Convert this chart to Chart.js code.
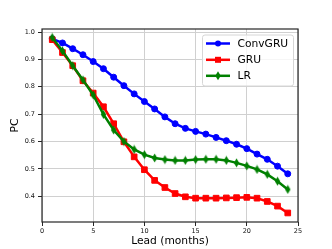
<!DOCTYPE html>
<html>
<head>
<meta charset="utf-8">
<script src="https://cdn.jsdelivr.net/npm/chart.js@4/dist/chart.umd.min.js"></script>
<style>
  html, body { margin: 0; padding: 0; background: #fff; }
  #wrap { width: 332px; height: 249px; }
</style>
</head>
<body>
<div id="wrap"><canvas id="pcChart" width="332" height="249"></canvas></div>
<script>
var leads = [1, 2, 3, 4, 5, 6, 7, 8, 9, 10, 11, 12, 13, 14, 15, 16, 17, 18, 19, 20, 21, 22, 23, 24];
var convGRU = [0.975, 0.960, 0.939, 0.917, 0.892, 0.866, 0.835, 0.804, 0.774, 0.746, 0.719, 0.690, 0.665, 0.648, 0.637, 0.627, 0.615, 0.603, 0.590, 0.574, 0.554, 0.535, 0.510, 0.482];
var gru = [0.972, 0.925, 0.877, 0.822, 0.777, 0.727, 0.665, 0.599, 0.544, 0.497, 0.458, 0.432, 0.410, 0.398, 0.393, 0.393, 0.393, 0.394, 0.395, 0.396, 0.393, 0.381, 0.364, 0.339];
var lr = [0.980, 0.931, 0.877, 0.825, 0.770, 0.699, 0.642, 0.600, 0.571, 0.552, 0.540, 0.534, 0.531, 0.531, 0.534, 0.535, 0.535, 0.531, 0.522, 0.511, 0.498, 0.480, 0.455, 0.425];
var xTicks = [0, 5, 10, 15, 20, 25];
var yTicks = [0.4, 0.5, 0.6, 0.7, 0.8, 0.9, 1.0];

var FONT = "'DejaVu Sans', sans-serif";

function toPoints(ys) {
    return ys.map(function (v, i) { return { x: leads[i], y: v }; });
}

// thin diamond marker (matplotlib 'd')
function thinDiamond(color) {
    var c = document.createElement('canvas');
    c.width = 7; c.height = 10;
    var g = c.getContext('2d');
    g.fillStyle = color;
    g.beginPath();
    g.moveTo(3.5, 0.5);
    g.lineTo(6.2, 5);
    g.lineTo(3.5, 9.5);
    g.lineTo(0.8, 5);
    g.closePath();
    g.fill();
    return c;
}

function drawMarker(ctx, style, color, x, y) {
    ctx.fillStyle = color;
    ctx.beginPath();
    if (style === 'circle') {
        ctx.arc(x, y, 3, 0, Math.PI * 2);
        ctx.fill();
    } else if (style === 'rect') {
        ctx.fillRect(x - 3, y - 3, 6, 6);
    } else {
        ctx.moveTo(x, y - 4.5);
        ctx.lineTo(x + 2.7, y);
        ctx.lineTo(x, y + 4.5);
        ctx.lineTo(x - 2.7, y);
        ctx.closePath();
        ctx.fill();
    }
}

var boxAndLegend = {
    id: 'boxAndLegend',
    afterDraw: function (chart) {
        var ctx = chart.ctx;
        var a = chart.chartArea;
        ctx.save();
        // spines
        ctx.strokeStyle = '#262626';
        ctx.lineWidth = 1.2;
        ctx.strokeRect(a.left, a.top, a.right - a.left, a.bottom - a.top);

        // legend frame
        var lx = 202.5, ly = 35, lw = 91, lh = 51, r = 2.5;
        ctx.beginPath();
        ctx.moveTo(lx + r, ly);
        ctx.lineTo(lx + lw - r, ly);
        ctx.quadraticCurveTo(lx + lw, ly, lx + lw, ly + r);
        ctx.lineTo(lx + lw, ly + lh - r);
        ctx.quadraticCurveTo(lx + lw, ly + lh, lx + lw - r, ly + lh);
        ctx.lineTo(lx + r, ly + lh);
        ctx.quadraticCurveTo(lx, ly + lh, lx, ly + lh - r);
        ctx.lineTo(lx, ly + r);
        ctx.quadraticCurveTo(lx, ly, lx + r, ly);
        ctx.closePath();
        ctx.fillStyle = 'rgba(255,255,255,0.8)';
        ctx.fill();
        ctx.strokeStyle = '#d6d6d6';
        ctx.lineWidth = 1;
        ctx.stroke();

        var rows = [43.5, 59.8, 75.8];
        chart.data.datasets.forEach(function (ds, i) {
            var y = rows[i];
            ctx.strokeStyle = ds.borderColor;
            ctx.lineWidth = 2.5;
            ctx.beginPath();
            ctx.moveTo(206, y);
            ctx.lineTo(230, y);
            ctx.stroke();
            drawMarker(ctx, ds.legendMarker, ds.borderColor, 218, y);
            ctx.fillStyle = '#000';
            ctx.font = '10.7px ' + FONT;
            ctx.textBaseline = 'middle';
            ctx.textAlign = 'left';
            ctx.fillText(ds.label, 237.5, y + 0.5);
        });
        ctx.restore();
    }
};

var ctx = document.getElementById('pcChart').getContext('2d');
var pcChart = new Chart(ctx, {
    type: 'line',
    data: {
        datasets: [{
            label: 'ConvGRU',
            data: toPoints(convGRU),
            borderColor: '#0000ff',
            backgroundColor: '#0000ff',
            pointBackgroundColor: '#0000ff',
            pointBorderColor: '#0000ff',
            pointStyle: 'circle',
            pointRadius: 3,
            legendMarker: 'circle',
            order: 2
        }, {
            label: 'GRU',
            data: toPoints(gru),
            borderColor: '#ff0000',
            backgroundColor: '#ff0000',
            pointBackgroundColor: '#ff0000',
            pointBorderColor: '#ff0000',
            pointStyle: 'rect',
            pointRadius: 4,
            legendMarker: 'rect',
            order: 1
        }, {
            label: 'LR',
            data: toPoints(lr),
            borderColor: '#008000',
            backgroundColor: '#008000',
            pointBackgroundColor: '#008000',
            pointBorderColor: '#008000',
            pointStyle: thinDiamond('#008000'),
            pointRadius: 4,
            legendMarker: 'diamond',
            order: 0
        }]
    },
    options: {
        responsive: false,
        animation: false,
        devicePixelRatio: 1,
        layout: { padding: { top: 29, right: 34, left: 0, bottom: 0 } },
        elements: {
            line: { borderWidth: 2.5, tension: 0, fill: false },
            point: { borderWidth: 1 }
        },
        plugins: {
            legend: { display: false },
            tooltip: { enabled: false }
        },
        scales: {
            x: {
                type: 'linear',
                min: 0,
                max: 25,
                afterFit: function (s) { s.height = 27; },
                afterBuildTicks: function (s) { s.ticks = xTicks.map(function (v) { return { value: v }; }); },
                grid: { color: '#d0d0d0', lineWidth: 1, tickColor: '#262626', tickLength: 4 },
                border: { display: false },
                ticks: {
                    color: '#111',
                    padding: 1,
                    maxRotation: 0,
                    font: { family: FONT, size: 6.5 }
                },
                title: {
                    display: true,
                    text: 'Lead (months)',
                    color: '#000',
                    font: { family: FONT, size: 10.7 },
                    padding: { top: 0, bottom: 1.5 }
                }
            },
            y: {
                type: 'linear',
                min: 0.306,
                max: 1.011,
                afterFit: function (s) { s.width = 42; },
                afterBuildTicks: function (s) { s.ticks = yTicks.map(function (v) { return { value: v }; }); },
                grid: { color: '#d0d0d0', lineWidth: 1, tickColor: '#262626', tickLength: 4 },
                border: { display: false },
                ticks: {
                    color: '#111',
                    padding: 3,
                    font: { family: FONT, size: 6.5 },
                    callback: function (v) { return v.toFixed(1); }
                },
                title: {
                    display: true,
                    text: 'PC',
                    color: '#000',
                    font: { family: FONT, size: 10.7 },
                    padding: { top: 8.5, bottom: 0 }
                }
            }
        }
    },
    plugins: [boxAndLegend]
});
</script>
</body>
</html>
